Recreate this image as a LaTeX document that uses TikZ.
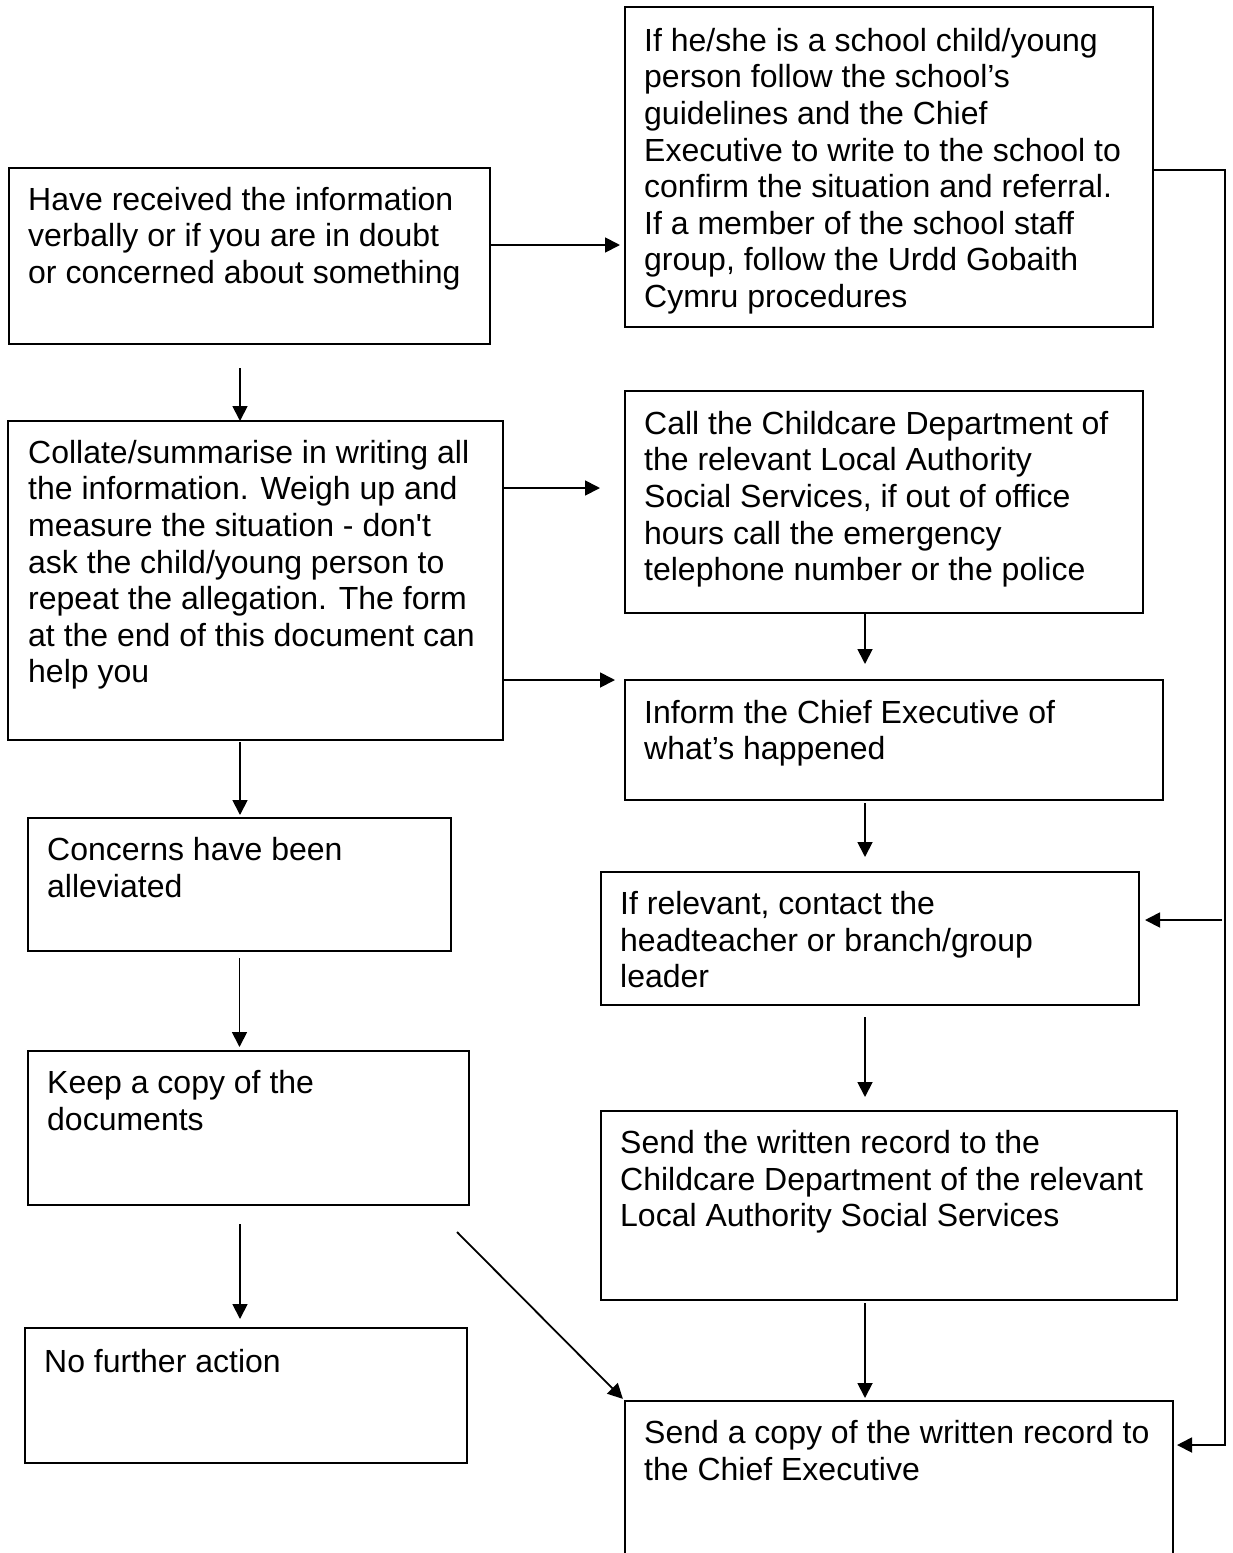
\documentclass[tikz,border=0pt]{standalone}
\usepackage{fontspec}
\setmainfont{Liberation Sans}
\usetikzlibrary{arrows.meta, positioning, calc}

\tikzset{
  stepbox/.style={draw=black, line width=1.8pt, inner sep=0pt, outer sep=0pt, anchor=north west},
  boxtext/.style={anchor=north west, align=left, inner sep=0pt, font=\fontsize{32}{36.6}\selectfont,
    execute at begin node=\strut},
  arr/.style={line width=1.8pt, -{Triangle[length=15pt, width=15pt]}}
}

\begin{document}
\begin{tikzpicture}[x=1pt, y=-1pt]
  \useasboundingbox (0,0) rectangle (1233,1553);

  % left column
  \node[stepbox, minimum width=481pt, minimum height=176pt] (recv) at (9,168) {};
  \node[stepbox, minimum width=495pt, minimum height=319pt] (collate) at (8,421) {};
  \node[stepbox, minimum width=423pt, minimum height=133pt] (alleviated) at (28,818) {};
  \node[stepbox, minimum width=441pt, minimum height=154pt] (keep) at (28,1051) {};
  \node[stepbox, minimum width=442pt, minimum height=135pt] (nofurther) at (25,1328) {};

  % right column
  \node[stepbox, minimum width=528pt, minimum height=320pt] (school) at (625,7) {};
  \node[stepbox, minimum width=518pt, minimum height=222pt] (call) at (625,391) {};
  \node[stepbox, minimum width=538pt, minimum height=120pt] (inform) at (625,680) {};
  \node[stepbox, minimum width=538pt, minimum height=133pt] (relevant) at (601,872) {};
  \node[stepbox, minimum width=576pt, minimum height=189pt] (sendrec) at (601,1111) {};
  \node[stepbox, minimum width=548pt, minimum height=169pt] (sendcopy) at (625,1401) {};

  % texts
  \node[boxtext] (recv-t) at ([xshift=19pt, yshift=-19pt]recv.north west)
    {Have received the information\\verbally or if you are in doubt\\or concerned about something};
  \node[boxtext] (collate-t) at ([xshift=20pt, yshift=-19pt]collate.north west)
    {Collate/summarise in writing all\\the information. Weigh up and\\measure the situation - don\textquotesingle t\\ask the child/young person to\\repeat the allegation. The form\\at the end of this document can\\help you};
  \node[boxtext] (alleviated-t) at ([xshift=19pt, yshift=-19pt]alleviated.north west)
    {Concerns have been\\alleviated};
  \node[boxtext] (keep-t) at ([xshift=19pt, yshift=-19pt]keep.north west)
    {Keep a copy of the\\documents};
  \node[boxtext] (nofurther-t) at ([xshift=19pt, yshift=-19pt]nofurther.north west)
    {No further action};
  \node[boxtext] (school-t) at ([xshift=19pt, yshift=-21pt]school.north west)
    {If he/she is a school child/young\\person follow the school’s\\guidelines and the Chief\\Executive to write to the school to\\confirm the situation and referral.\\If a member of the school staff\\group, follow the Urdd Gobaith\\Cymru procedures};
  \node[boxtext] (call-t) at ([xshift=19pt, yshift=-20pt]call.north west)
    {Call the Childcare Department of\\the relevant Local Authority\\Social Services, if out of office\\hours call the emergency\\telephone number or the police};
  \node[boxtext] (inform-t) at ([xshift=19pt, yshift=-20pt]inform.north west)
    {Inform the Chief Executive of\\what’s happened};
  \node[boxtext] (relevant-t) at ([xshift=19pt, yshift=-19pt]relevant.north west)
    {If relevant, contact the\\headteacher or branch/group\\leader};
  \node[boxtext] (sendrec-t) at ([xshift=19pt, yshift=-19pt]sendrec.north west)
    {Send the written record to the\\Childcare Department of the relevant\\Local Authority Social Services};
  \node[boxtext] (sendcopy-t) at ([xshift=19pt, yshift=-19pt]sendcopy.north west)
    {Send a copy of the written record to\\the Chief Executive};

  % connectors
  \draw[arr, shorten >=5pt] ([yshift=11pt]recv.east) -- ([yshift=11pt]recv.east -| school.west);
  \draw[arr, shorten <=24pt] ([xshift=-9.5pt]recv.south) -- ([xshift=-9.5pt]recv.south |- collate.north);
  \draw[arr, shorten >=25pt] ([yshift=92.5pt]collate.east) -- ([yshift=92.5pt]collate.east -| call.west);
  \draw[arr, shorten >=10pt] ([yshift=-99.5pt]collate.east) -- ([yshift=-99.5pt]collate.east -| inform.west);
  \draw[arr, shorten >=16pt] ([xshift=-19pt]call.south) -- ([xshift=-19pt]call.south |- inform.north);
  \draw[arr, shorten <=2pt, shorten >=3pt] ([xshift=-15.5pt]collate.south) -- ([xshift=-15.5pt]collate.south |- alleviated.north);
  \draw[arr, shorten <=3pt, shorten >=15pt] ([xshift=-29pt]inform.south) -- ([xshift=-29pt]inform.south |- relevant.north);
  \draw[arr, shorten <=7pt, shorten >=4pt] (alleviated.south) -- (alleviated.south |- keep.north);
  \draw[arr, shorten <=12pt, shorten >=14pt] ([xshift=-5pt]relevant.south) -- ([xshift=-5pt]relevant.south |- sendrec.north);
  \draw[arr, shorten <=19pt, shorten >=9pt] ([xshift=-8.5pt]keep.south) -- ([xshift=-8.5pt]keep.south |- nofurther.north);
  \draw[arr, shorten >=3pt] ([xshift=-12pt, yshift=-27pt]keep.south east) -- (sendcopy.north west);
  \draw[arr, shorten <=3pt, shorten >=3pt] ([xshift=-24pt]sendrec.south) -- ([xshift=-24pt]sendrec.south |- sendcopy.north);

  % feedback rail on the right
  \draw[arr, shorten >=4pt] ([yshift=-3pt]school.east) -- ++(72pt,0) coordinate (rail) |- ([yshift=40.5pt]sendcopy.east);
  \coordinate (tap) at ([yshift=18.5pt]relevant.east -| rail);
  \draw[arr, shorten <=3pt, shorten >=6pt] (tap) -- ([yshift=18.5pt]relevant.east);
\end{tikzpicture}
\end{document}
